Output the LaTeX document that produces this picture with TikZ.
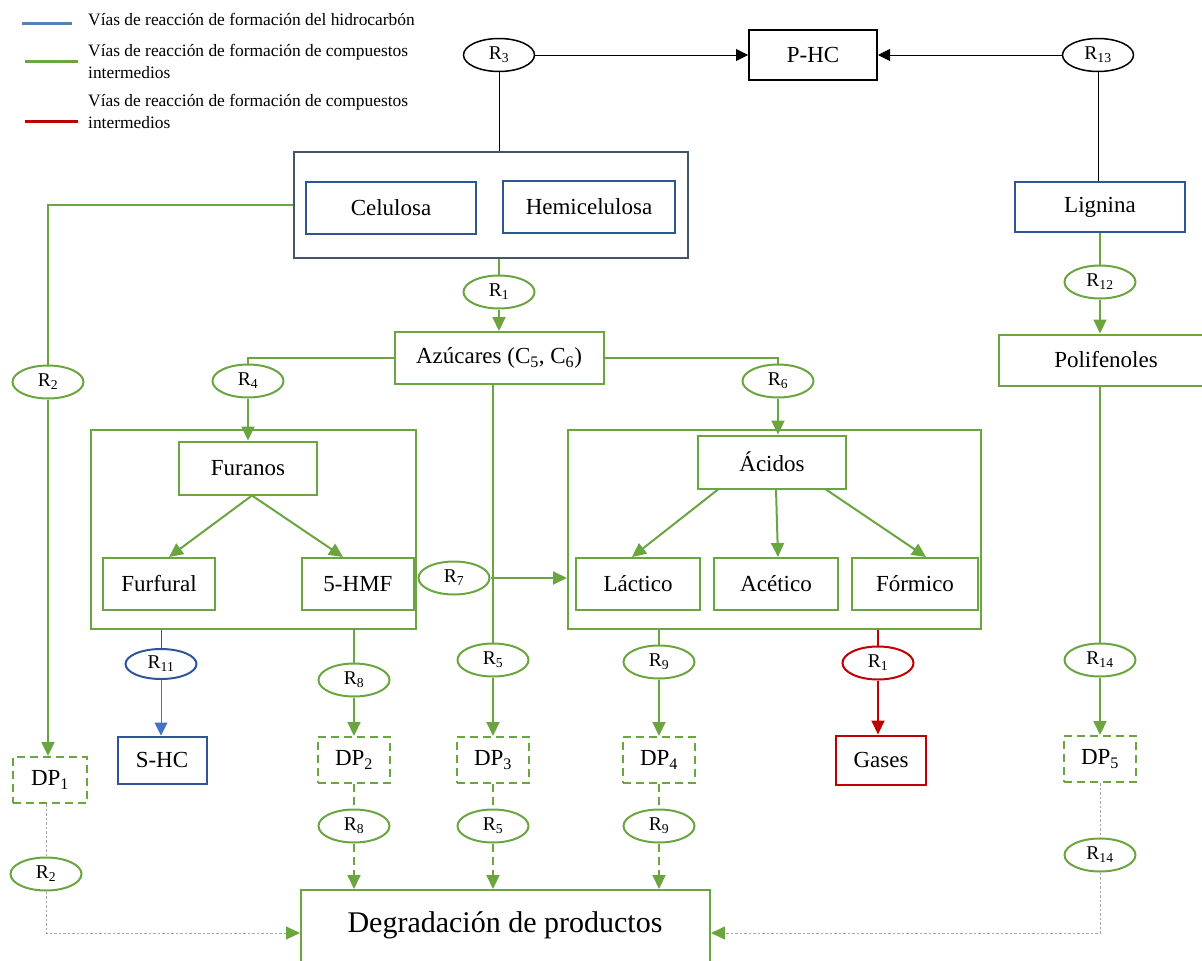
\documentclass[tikz,border=0pt]{standalone}
\usepackage{fontspec}
\setmainfont{Liberation Serif}
\usetikzlibrary{shapes.geometric,arrows.meta,positioning}

\definecolor{grn}{RGB}{106,165,64}
\definecolor{bluebox}{RGB}{47,85,151}
\definecolor{bluearr}{RGB}{68,114,196}
\definecolor{blueleg}{RGB}{84,130,187}
\definecolor{framec}{RGB}{68,84,106}
\definecolor{redd}{RGB}{192,0,0}
\definecolor{dotgray}{RGB}{165,165,165}

\newcommand{\sizeBox}{\fontsize{23}{27}\selectfont}
\newcommand{\sizeR}{\fontsize{19.5}{22}\selectfont}
\newcommand{\sizeLeg}{\fontsize{17.4}{22}\selectfont}
\newcommand{\sizeDeg}{\fontsize{30}{36}\selectfont}
\newcommand{\rlab}[1]{R\textsubscript{#1}}

\begin{document}
\begin{tikzpicture}[x=1pt,y=-1pt]
	\tikzset{>={Triangle[length=14pt,width=13pt]}}
	\tikzset{box/.style={draw=grn,line width=2pt,inner sep=0pt,font=\sizeBox,minimum height=52pt}}
	\tikzset{bluebx/.style={box,draw=bluebox}}
	\tikzset{dpbox/.style={box,dash pattern=on 8pt off 5pt,minimum width=72pt,minimum height=46pt}}
	\tikzset{rxn/.style={ellipse,draw=grn,line width=2pt,minimum width=71pt,minimum height=33pt,inner sep=0pt,font=\sizeR}}
	\tikzset{gline/.style={grn,line width=2pt}}
	\tikzset{gdash/.style={gline,dash pattern=on 8pt off 5pt}}
	\tikzset{dotl/.style={dotgray,line width=1pt,dash pattern=on 2.5pt off 2pt}}
	\tikzset{kline/.style={black,line width=1pt}}
	\useasboundingbox (0,0) rectangle (1202,961);
	
	% Legend
	\draw[blueleg,line width=3pt] (22,23) -- (72,23);
	\node[anchor=west,inner sep=0pt,font=\sizeLeg] (leg1) at (88,20) {Vías de reacción de formación del hidrocarbón};
	\draw[grn,line width=3pt] (25,61) -- (78,61);
	\node[anchor=west,inner sep=0pt,align=left,font=\sizeLeg] (leg2) at (88,61) {Vías de reacción de formación de compuestos\\intermedios};
	\draw[redd,line width=3pt] (25,121) -- (78,121);
	\node[anchor=west,inner sep=0pt,align=left,font=\sizeLeg] (leg3) at (88,111) {Vías de reacción de formación de compuestos\\intermedios};
	
	% Hydrocarbon on top
	\node (rectPHC) at (813,55) [box,draw=black,minimum width=128pt,minimum height=50pt] {P-HC};
	\node (r3) at (499,55) [rxn,draw=black,line width=1.5pt] {\rlab{3}};
	\node (r13) at (1098,55) [rxn,draw=black,line width=1.5pt] {\rlab{13}};
	\draw[kline,-{Triangle[length=12pt,width=12pt]}] (r3) -- (rectPHC);
	\draw[kline,-{Triangle[length=12pt,width=12pt]}] (r13) -- (rectPHC);
	
	% Biomass
	\node (rectBio) at (491,205) [draw=framec,line width=1.5pt,minimum width=394pt,minimum height=106pt] {};
	\node (rectCel) at (391,208) [bluebx,minimum width=170pt,minimum height=52pt] {Celulosa};
	\node (rectHemi) at (589,207) [bluebx,minimum width=172pt,minimum height=52pt] {Hemicelulosa};
	\node (rectLig) at (1100,207) [bluebx,minimum width=170pt,minimum height=50pt] {Lignina};
	\draw[kline] (r3) -- (r3 |- rectBio.north);
	\draw[kline] (r13) -- (r13 |- rectLig.north);
	
	% Sugars
	\node (r1) at (499,292) [rxn] {\rlab{1}};
	\node (rectAzu) at (499,358) [box,minimum width=209pt] {Azúcares (C\textsubscript{5}, C\textsubscript{6})};
	\draw[gline] (r1 |- rectBio.south) -- (r1);
	\draw[gline,->] (r1) -- (rectAzu);
	
	% Lignin branch
	\node (r12) at (1100,282) [rxn] {\rlab{12}};
	\node (rectPoli) at (1106,360) [box,minimum width=214pt,minimum height=51pt] {Polifenoles};
	\draw[gline] (rectLig) -- (r12);
	\draw[gline,->] (r12) -- (r12 |- rectPoli.north);
	
	% Cellulose degradation on the left
	\node (r2a) at (48,382) [rxn] {\rlab{2}};
	\node (dp1) at (50,780) [dpbox,minimum width=74pt] {DP\textsubscript{1}};
	\draw[gline] (rectBio.west) -| (r2a);
	\draw[gline,->] (r2a) -- (r2a |- dp1.north);
	
	% Furans
	\node (rectFur) at (253.5,529.5) [box,minimum width=325pt,minimum height=199pt] {};
	\node (rectFuranos) at (248,468) [box,minimum width=138pt,minimum height=53pt] {Furanos};
	\node (rectFurfural) at (159,584) [box,minimum width=112pt] {Furfural};
	\node (rectHMF) at (358,584) [box,minimum width=112pt] {5-HMF};
	\node (r4) at (248,381) [rxn] {\rlab{4}};
	\draw[gline] (rectAzu.west) -| (r4);
	\draw[gline,->] (r4) -- (rectFuranos);
	\draw[gline,->] ([xshift=4pt]rectFuranos.south) -- ([xshift=10pt]rectFurfural.north);
	\draw[gline,->] ([xshift=4pt]rectFuranos.south) -- ([xshift=-15pt]rectHMF.north);
	
	% Acids
	\node (rectAci) at (774.5,529.5) [box,minimum width=413pt,minimum height=199pt] {};
	\node (rectAcidos) at (772,462) [box,minimum width=148pt,minimum height=53pt] {Ácidos};
	\node (rectLac) at (638,584) [box,minimum width=124pt] {Láctico};
	\node (rectAce) at (776,584) [box,minimum width=124pt] {Acético};
	\node (rectFor) at (915,584) [box,minimum width=126pt] {Fórmico};
	\node (r6) at (778,381) [rxn] {\rlab{6}};
	\draw[gline] (rectAzu.east) -| (r6);
	\draw[gline,->] (r6) -- (r6 |- rectAcidos.north);
	\draw[gline,->] ([xshift=-54pt]rectAcidos.south) -- ([xshift=-6pt]rectLac.north);
	\draw[gline,->] ([xshift=4pt]rectAcidos.south) -- ([xshift=2pt]rectAce.north);
	\draw[gline,->] ([xshift=54pt]rectAcidos.south) -- ([xshift=11pt]rectFor.north);
	
	\node (r7) at (454,578) [rxn] {\rlab{7}};
	\draw[gline,->] (r7) -- (r7 -| rectAci.west);
	
	% Hydrocarbon from furfural
	\node (r11) at (161,664) [rxn,draw=bluebox,minimum height=30pt] {\rlab{11}};
	\node (rectSHC) at (162,760) [bluebx,minimum width=89pt,minimum height=47pt] {S-HC};
	\draw[bluebox,line width=1pt] (r11 |- rectFur.south) -- (r11);
	\draw[bluearr,line width=1pt,-{Triangle[length=13pt,width=13pt]}] (r11) -- (r11 |- rectSHC.north);
	
	% Degradation products
	\node (rectDeg) at (505.5,933) [box,minimum width=409pt,minimum height=86pt] {};
	\node[font=\sizeDeg] (txtDeg) at (505,925) {Degradación de productos};
	
	\foreach \i/\x/\rn/\y in {2/354/8/680,3/493/5/660,4/659/9/662}{
		\node (ra\i) at (\x,\y) [rxn] {\rlab{\rn}};
		\node (dp\i) at (\x,760) [dpbox] {DP\textsubscript{\i}};
		\node (rb\i) at (\x,826) [rxn] {\rlab{\rn}};
		\draw[gline,->] (ra\i) -- (dp\i);
		\draw[gdash] (dp\i) -- (rb\i);
		\draw[gdash,->] (rb\i) -- (rb\i |- rectDeg.north);
	}
	\draw[gline] (ra2 |- rectFur.south) -- (ra2);
	\draw[gline] (rectAzu.south -| ra3) -- (ra3);
	\draw[gline] (ra4 |- rectAci.south) -- (ra4);
	
	% Gases
	\node (r1b) at (878,663) [rxn,draw=redd] {\rlab{1}};
	\node (rectGas) at (881,760) [box,draw=redd,minimum width=90pt,minimum height=49pt] {Gases};
	\draw[redd,line width=2pt] (r1b |- rectAci.south) -- (r1b);
	\draw[redd,line width=2pt,->] (r1b) -- (r1b |- rectGas.north);
	
	% Polyphenols degradation
	\node (r14a) at (1100,660) [rxn] {\rlab{14}};
	\node (dp5) at (1100,759) [dpbox] {DP\textsubscript{5}};
	\node (r14b) at (1100,855) [rxn] {\rlab{14}};
	\draw[gline] (r14a |- rectPoli.south) -- (r14a);
	\draw[gline,->] (r14a) -- (dp5);
	\draw[dotl] (dp5) -- (r14b);
	\draw[dotl,-{Triangle[length=14pt,width=13pt,color=grn]}] (r14b) |- (rectDeg.east);
	
	% Dotted way from DP1
	\node (r2b) at (46,874) [rxn] {\rlab{2}};
	\draw[dotl] (dp1.south -| r2b) -- (r2b);
	\draw[dotl,-{Triangle[length=14pt,width=13pt,color=grn]}] (r2b) |- (rectDeg.west);
\end{tikzpicture}
\end{document}
